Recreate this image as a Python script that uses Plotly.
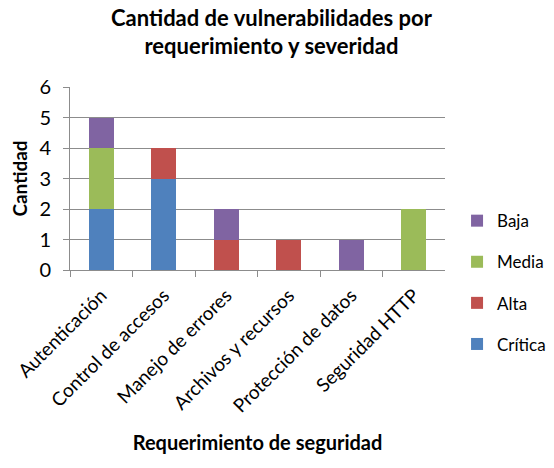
import plotly.graph_objects as go

categorias = ["Autenticación", "Control de accesos", "Manejo de errores",
              "Archivos y recursos", "Protección de datos", "Seguridad HTTP"]
critica = [2, 3, 0, 0, 0, 0]
alta = [0, 1, 1, 1, 0, 0]
media = [2, 0, 0, 0, 0, 2]
baja = [1, 0, 1, 0, 1, 0]

# nombre, valores, color, orden en la leyenda
series = [
    ("Crítica", critica, "#4F81BD", 4),
    ("Alta", alta, "#C0504D", 3),
    ("Media", media, "#9BBB59", 2),
    ("Baja", baja, "#8064A2", 1),
]

FONT = "Lato, 'Open Sans', sans-serif"

fig = go.Figure()
for nombre, valores, color, rango in series:
    fig.add_trace(go.Bar(
        x=categorias, y=valores, name=nombre,
        marker={"color": color, "line": {"width": 0}},
        legendgroup=nombre, legendrank=rango,
    ))

fig.update_layout(
    barmode="stack",
    bargap=0.6,
    width=554, height=468,
    margin={"l": 70, "r": 99, "t": 87, "b": 198},
    plot_bgcolor="white",
    paper_bgcolor="white",
    font={"family": FONT, "color": "#000000", "size": 17},
    title={
        "text": "<b>Cantidad de vulnerabilidades por<br>requerimiento y severidad</b>",
        "xref": "container", "x": 0.49, "xanchor": "center",
        "y": 0.945, "yanchor": "top",
        "font": {"size": 22, "family": FONT},
    },
    legend={
        "xref": "container", "yref": "container",
        "x": 0.825, "xanchor": "left", "y": 0.566, "yanchor": "top",
        "traceorder": "grouped", "tracegroupgap": 16,
        "font": {"size": 17}, "itemwidth": 30,
    },
    xaxis={
        "title": {"text": "<b>Requerimiento de seguridad</b>", "font": {"size": 20},
                  "standoff": 20},
        "automargin": True,
        "tickangle": -45,
        "tickfont": {"size": 19},
        "ticklabelstandoff": 6,
        "showline": True, "linecolor": "#8c8c8c", "linewidth": 1,
        "ticks": "outside", "tickcolor": "#8c8c8c", "ticklen": 6,
        "tickson": "boundaries",
        "showgrid": False,
    },
    yaxis={
        "title": {"text": "<b>Cantidad</b>", "font": {"size": 19}, "standoff": 6},
        "automargin": True,
        "range": [0, 6], "dtick": 1,
        "tickfont": {"size": 20},
        "ticklabelstandoff": 8,
        "showline": True, "linecolor": "#8c8c8c", "linewidth": 1,
        "ticks": "outside", "tickcolor": "#8c8c8c", "ticklen": 6,
        "showgrid": True, "gridcolor": "#8c8c8c", "gridwidth": 1,
        "zeroline": False,
    },
)

fig.write_html("out.html", config={"displayModeBar": False},
               post_script="document.body.style.margin='0';")
